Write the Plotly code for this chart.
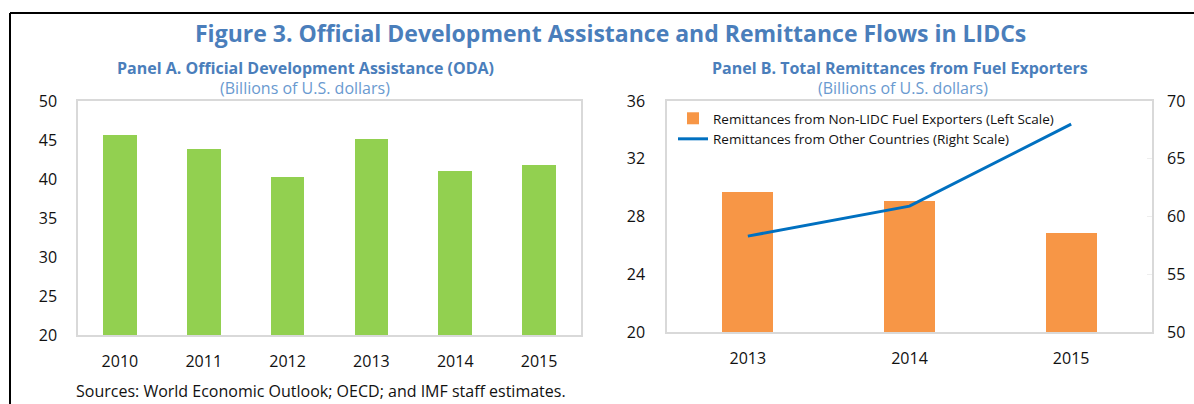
import plotly.graph_objects as go

W, H = 1194, 404

# Data
years_a = ["2010", "2011", "2012", "2013", "2014", "2015"]
oda = [45.7, 43.9, 40.2, 45.1, 41.0, 41.8]

years_b = ["2013", "2014", "2015"]
remit_fuel = [29.7, 29.1, 26.85]
remit_other = [58.3, 60.9, 68.0]

left_ticks_a = [20, 25, 30, 35, 40, 45, 50]
left_ticks_b = [20, 24, 28, 32, 36]
right_ticks_b = [50, 55, 60, 65, 70]

FONT = "Open Sans"
TITLE_BLUE = "#4A7EBB"
SUB_BLUE = "#6A9AD0"

def px(x):
    return x / W

def py(y):
    return 1 - y / H

fig = go.Figure()

fig.add_trace(go.Bar(x=years_a, y=oda, marker=dict(color="#92D050", line=dict(width=0)),
                     width=0.4, xaxis="x", yaxis="y", showlegend=False))

fig.add_trace(go.Bar(x=years_b, y=remit_fuel, marker=dict(color="#F79646", line=dict(width=0)),
                     width=0.315, xaxis="x2", yaxis="y2",
                     name="Remittances from Non-LIDC Fuel Exporters (Left Scale)"))
fig.add_trace(go.Scatter(x=years_b, y=remit_other, mode="lines",
                         line=dict(color="#0070C0", width=3),
                         xaxis="x2", yaxis="y3",
                         name="Remittances from Other Countries (Right Scale)"))

axis_font = dict(family=FONT, size=16, color="#111111")
border = "#D9D9D9"

fig.update_layout(
    template="none",
    width=W, height=H,
    autosize=False,
    margin=dict(l=0, r=0, t=0, b=0, pad=0),
    paper_bgcolor="white", plot_bgcolor="white",
    bargap=0,
    xaxis=dict(domain=[px(78), px(581)], anchor="y", type="category", automargin=False,
               showline=True, linecolor=border, linewidth=1.5, mirror=True,
               showgrid=False, ticks="", tickfont=axis_font, ticklabelstandoff=11),
    yaxis=dict(domain=[py(335), py(101)], anchor="x", range=[20, 50], automargin=False,
               tickvals=left_ticks_a, showgrid=False, zeroline=False,
               showline=True, linecolor=border, linewidth=1.5, mirror=True,
               ticks="", tickfont=axis_font, ticklabelstandoff=16),
    xaxis2=dict(domain=[px(667), px(1152)], anchor="y2", type="category", automargin=False,
                showline=True, linecolor=border, linewidth=1.5, mirror=True,
                showgrid=False, ticks="", tickfont=axis_font, ticklabelstandoff=11),
    yaxis2=dict(domain=[py(332), py(101)], anchor="x2", range=[20, 36], automargin=False,
                tickvals=left_ticks_b, showgrid=False, zeroline=False,
                showline=True, linecolor=border, linewidth=1.5, mirror=True,
                ticks="", tickfont=axis_font, ticklabelstandoff=17),
    yaxis3=dict(overlaying="y2", side="right", anchor="x2", range=[50, 70], automargin=False,
                tickvals=right_ticks_b, showgrid=False, zeroline=False,
                showline=False, ticks="inside", ticklen=5, tickcolor="#EEEEEE",
                tickfont=axis_font, ticklabelstandoff=14),
    legend=dict(x=px(673), y=py(103), xanchor="left", yanchor="top",
                bgcolor="rgba(0,0,0,0)", borderwidth=0,
                font=dict(family=FONT, size=13.5, color="#111111"),
                tracegroupgap=0, itemwidth=30),
    showlegend=True,
    font=dict(family=FONT),
)

annotations = [
    dict(text="<b>Figure 3. Official Development Assistance and Remittance Flows in LIDCs</b>",
         x=px(610), y=py(33), font=dict(family=FONT, size=23, color=TITLE_BLUE)),
    dict(text="<b>Panel A. Official Development Assistance (ODA)</b>",
         x=px(305), y=py(68), font=dict(family=FONT, size=16, color=TITLE_BLUE)),
    dict(text="(Billions of U.S. dollars)",
         x=px(305), y=py(88), font=dict(family=FONT, size=16, color=SUB_BLUE)),
    dict(text="<b>Panel B. Total Remittances from Fuel Exporters</b>",
         x=px(900), y=py(68), font=dict(family=FONT, size=16, color=TITLE_BLUE)),
    dict(text="(Billions of U.S. dollars)",
         x=px(903), y=py(88), font=dict(family=FONT, size=16, color=SUB_BLUE)),
    dict(text="Sources: World Economic Outlook; OECD; and IMF staff estimates.",
         x=px(74), y=py(391), xanchor="left", font=dict(family=FONT, size=16, color="#111111")),
]
for a in annotations:
    a.setdefault("xanchor", "center")
    a.update(xref="paper", yref="paper", yanchor="middle", showarrow=False)
fig.update_layout(annotations=annotations)

fig.update_layout(shapes=[
    dict(type="line", xref="paper", yref="paper", x0=px(10), x1=1, y0=py(13), y1=py(13),
         line=dict(color="black", width=2)),
    dict(type="line", xref="paper", yref="paper", x0=px(10), x1=px(10), y0=0, y1=py(13),
         line=dict(color="black", width=2)),
])

fig.write_html(
    "out.html",
    config={"displayModeBar": False},
    post_script="document.body.style.margin='0';document.body.style.overflow='hidden';",
)
